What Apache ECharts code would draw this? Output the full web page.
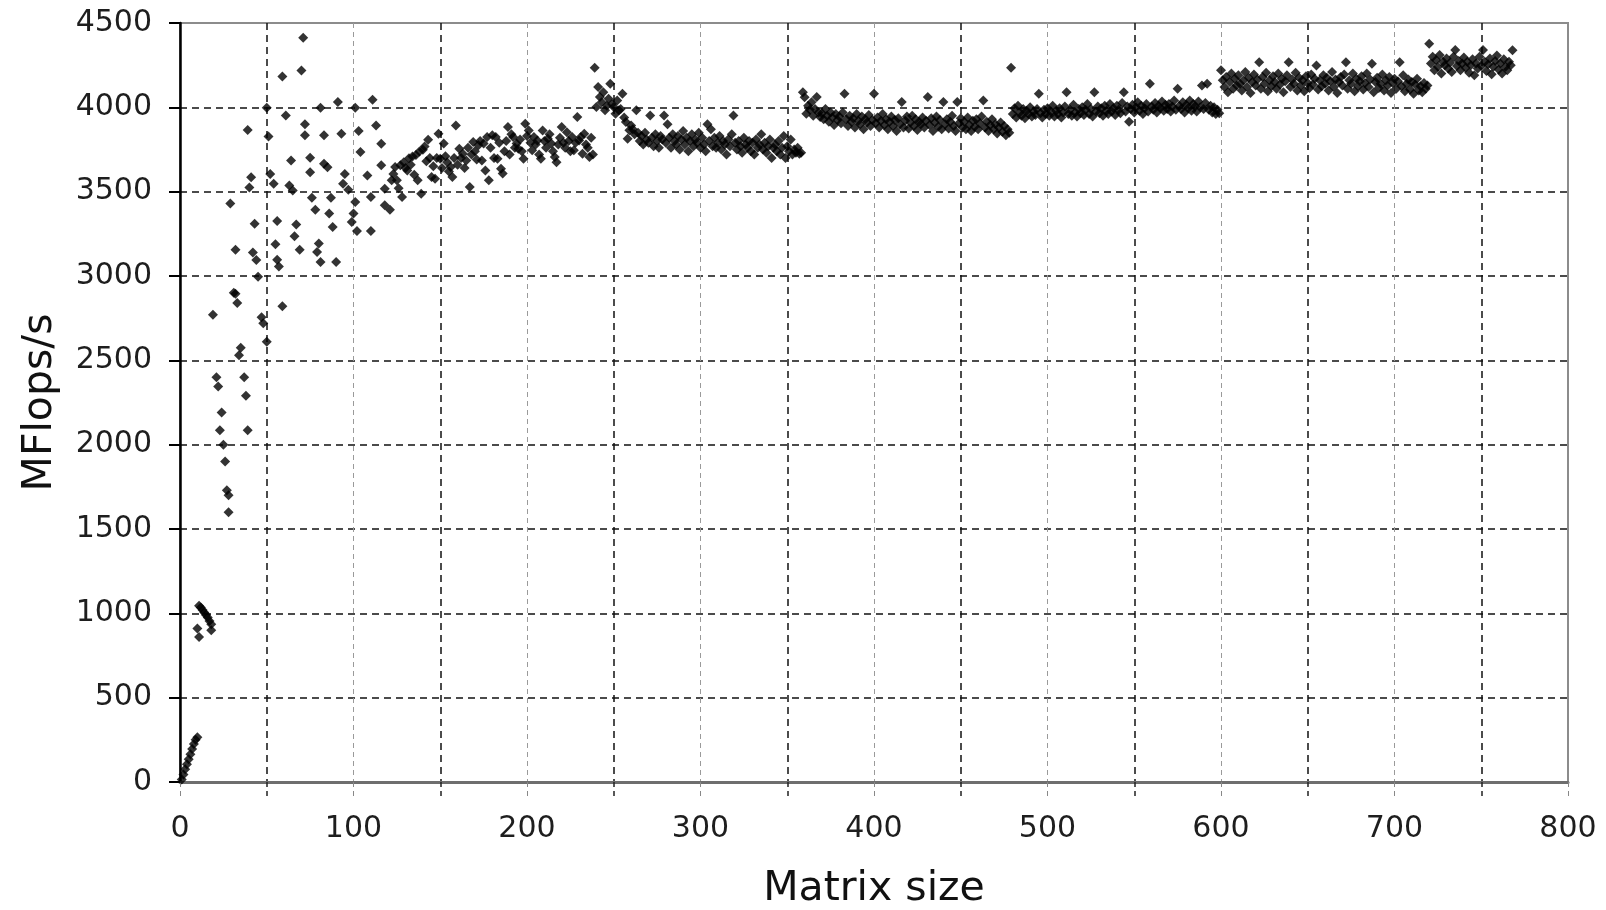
<!DOCTYPE html>
<html>
<head>
<meta charset="utf-8">
<script src="https://cdn.jsdelivr.net/npm/echarts@6/dist/echarts.min.js"></script>
<style>
html,body{margin:0;padding:0;background:#fff;}
#chart{width:1606px;height:910px;}
</style>
</head>
<body>
<div id="chart"></div>
<script>
// Axis ticks
const xTicks = [0, 100, 200, 300, 400, 500, 600, 700, 800];
const yTicks = [0, 500, 1000, 1500, 2000, 2500, 3000, 3500, 4000, 4500];

// Small matrix sizes (scattered region), explicit size / MFlops pairs
const sparseSizes = [1,2,3,4,5,6,7,8,9,10,
  11,12,13,14,15,16,17,10,11,18,18,
  19,21,22,24,23,25,26,27,28,28,29,31,32,32,33,34,35,37,38,39,39,41,40,
  42,43,44,45,47,48,50,50,51,52,54,55,56,57,56,59,59,61,63,64,65,66,67,69,70,71,
  72,72,75,75,76,78,79,80,81,81,83,83,85,86,87,88,90,91,93,94,95,97,99,100,
  101,101,102,103,104,108,110,110,111,113,116,116,118,118];
const sparseFlops = [15,45,75,105,135,165,195,225,250,265,
  1045,1035,1020,1005,990,975,955,910,860,935,900,
  2770,2400,2345,2190,2085,2000,1900,1730,1700,1600,3430,2900,3155,2895,2840,2530,2575,2400,2290,2085,3865,3585,3525,
  3140,3310,3095,2995,2755,2720,2610,3998,3827,3605,3547,3188,3097,3057,3326,2820,4183,3952,3537,3685,3507,3235,3306,3156,4219,4412,
  3834,3899,3701,3615,3464,3393,3142,3192,3083,3998,3665,3834,3645,3370,3464,3290,3083,4031,3843,3547,3605,3512,3320,3370,
  3438,3998,3267,3859,3735,3596,3468,3267,4045,3893,3784,3656,3518,3419];

// One point per matrix size from the given start size
const startB = 121;
const flopsB = [
  3393,3567,3605,3646,3567,3520,3656,3468,3675,3640,
  3626,3698,3660,3708,3600,3718,3567,3738,3488,3748,
  3768,3680,3808,3700,3587,3650,3577,3700,3844,3695,
  3640,3785,3710,3675,3620,3646,3587,3700,3893,3660,
  3755,3700,3725,3640,3685,3760,3527,3720,3794,3740,
  3690,3775,3800,3685,3785,3626,3824,3567,3760,3834,
  3700,3824,3695,3790,3636,3607,3740,3800,3883,3720,
  3840,3824,3760,3785,3755,3810,3740,3695,3903,3830,
  3863,3790,3745,3824,3780,3804,3720,3695,3863,3800,
  3760,3814,3840,3785,3740,3705,3675,3780,3820,3883,
  3790,3760,3853,3800,3740,3824,3745,3790,3942,3804,
  3824,3725,3844,3780,3760,3705,3820,3720,4235];

const startC = 240;
const flopsC = [
  4002,4120,4061,4030,4090,3982,4010,4051,4140,4020,
  4002,3962,4040,3982,3990,4081,3940,3913,3814,3864,
  3893,3870,3840,3982,3850,3800,3830,3780,3850,3810,
  3790,3952,3820,3770,3840,3800,3760,3830,3810,3952,
  3790,3900,3820,3760,3840,3800,3780,3830,3750,3810,
  3860,3780,3820,3740,3800,3840,3770,3810,3790,3850,
  3760,3820,3780,3740,3900,3800,3870,3770,3820,3760,
  3790,3830,3750,3800,3780,3720,3810,3770,3840,3952,
  3790,3750,3800,3770,3730,3820,3780,3760,3800,3740,
  3790,3720,3810,3760,3780,3840,3750,3790,3730,3770,
  3810,3700,3760,3780,3740,3800,3720,3760,3830,3700,
  3770,3740,3810,3720,3750,3730,3760,3725,3730,4090];

const startD = 360;
const flopsD = [
  4060,3962,4010,3985,4030,3950,3990,4061,3970,3942,
  3965,3930,3990,3950,3915,3970,3940,3895,3960,3925,
  3945,3905,3970,4080,3930,3890,3950,3915,3935,3880,
  3960,3920,3900,3945,3870,3930,3910,3955,3890,3925,
  4080,3905,3940,3880,3920,3960,3895,3930,3870,3915,
  3945,3890,3925,3860,3935,3900,4031,3880,3920,3945,
  3875,3910,3950,3890,3930,3865,3915,3900,3940,3880,
  3920,4061,3895,3935,3860,3910,3945,3885,3925,3870,
  4031,3900,3930,3875,3915,3950,3890,3860,4031,3905,
  3935,3880,3915,3870,3940,3895,3860,3920,3885,3930,
  3870,3905,3945,4041,3880,3915,3860,3895,3930,3870,
  3900,3845,3880,3910,3855,3890,3835,3870,3850,4235];

const startE = 480;
const flopsE = [
  3960,3995,3940,4010,3970,3950,3990,3935,3980,3960,
  4000,3945,3975,3955,3990,4080,3965,3940,3985,3960,
  3995,3950,3975,4010,3945,3980,3960,3995,3940,3970,
  4005,4090,3960,3985,3950,4015,3970,3945,3990,3965,
  4000,3955,3985,4020,3960,3990,3945,4090,3975,4005,
  3965,3995,3950,4010,3980,3960,4020,3975,3995,3955,
  4010,3985,3965,4025,4090,3975,4005,3915,3990,4015,
  3970,4000,4030,3980,4010,3960,3995,4020,3975,4140,
  4005,3985,4025,3970,4010,3995,4035,3980,4015,3990,
  4020,3975,4005,4040,3985,4110,4010,3990,4030,3970,
  4015,3995,4040,3980,4020,4005,3975,4035,4000,4130,
  3990,4025,4140,3985,4010,3970,4000,3960,3985,3965];

const startF = 600;
const flopsF = [
  4220,4160,4120,4180,4090,4150,4200,4110,4170,4130,
  4190,4140,4100,4160,4210,4120,4175,4085,4150,4195,
  4130,4165,4268,4110,4180,4140,4205,4095,4160,4125,
  4185,4150,4110,4200,4135,4170,4090,4155,4190,4268,
  4120,4165,4140,4205,4100,4175,4130,4160,4095,4185,
  4145,4115,4195,4135,4170,4248,4105,4160,4125,4190,
  4140,4175,4100,4155,4210,4120,4165,4085,4150,4180,
  4130,4195,4268,4110,4160,4140,4200,4095,4170,4125,
  4155,4185,4105,4145,4200,4120,4165,4258,4090,4150,
  4175,4115,4140,4195,4100,4160,4130,4180,4085,4145,
  4170,4110,4155,4268,4125,4190,4095,4140,4165,4105,
  4150,4080,4135,4170,4100,4125,4090,4145,4110,4130];

const startG = 720;
const flopsG = [
  4377,4260,4300,4220,4280,4240,4310,4200,4270,4250,
  4290,4230,4265,4210,4300,4340,4245,4275,4220,4260,
  4295,4235,4270,4205,4250,4285,4190,4260,4230,4300,
  4245,4340,4270,4215,4255,4290,4196,4240,4275,4308,
  4225,4260,4200,4285,4240,4220,4270,4250,4338];

const points = [];
sparseSizes.forEach((s, i) => points.push([s, sparseFlops[i]]));
[[startB, flopsB], [startC, flopsC], [startD, flopsD], [startE, flopsE], [startF, flopsF], [startG, flopsG]]
  .forEach(([start, arr]) => arr.forEach((v, i) => points.push([start + i, v])));

const chart = echarts.init(document.getElementById('chart'), null, {renderer: 'canvas'});
const labelFont = {fontFamily: 'DejaVu Sans', fontSize: 30, color: '#1e1e1e'};
chart.setOption({
  animation: false,
  backgroundColor: '#fff',
  grid: {left: 180, right: 38, top: 23, bottom: 128, show: true, borderColor: '#8c8c8c', borderWidth: 2,
         backgroundColor: 'transparent', containLabel: false, outerBoundsMode: 'none'},
  xAxis: {
    type: 'value', min: xTicks[0], max: xTicks[xTicks.length - 1], interval: 100,
    name: 'Matrix size', nameLocation: 'middle', nameGap: 87,
    nameTextStyle: {fontFamily: 'DejaVu Sans', fontSize: 41, color: '#111'},
    axisLine: {show: true, onZero: false, lineStyle: {color: '#6e6e6e', width: 3}},
    axisTick: {show: true, length: 15, lineStyle: {color: '#888', width: 1, type: [5, 4]}},
    minorTick: {show: true, splitNumber: 2, length: 15, lineStyle: {color: '#222', width: 1.5, type: [5, 4]}},
    axisLabel: Object.assign({margin: 32, formatter: v => String(v)}, labelFont),
    splitLine: {show: true, showMinLine: false, showMaxLine: false, lineStyle: {color: '#9a9a9a', width: 1, type: [5, 4]}},
    minorSplitLine: {show: true, lineStyle: {color: '#111', width: 1.5, type: [7, 5]}}
  },
  yAxis: {
    type: 'value', min: yTicks[0], max: yTicks[yTicks.length - 1], interval: 500,
    name: 'MFlops/s', nameLocation: 'middle', nameGap: 119, nameRotate: 90,
    nameTextStyle: {fontFamily: 'DejaVu Sans', fontSize: 41, color: '#111'},
    axisLine: {show: true, lineStyle: {color: '#000', width: 2.5}},
    axisTick: {show: true, length: 11, lineStyle: {color: '#000', width: 2}},
    axisLabel: Object.assign({margin: 28, formatter: v => String(v)}, labelFont),
    splitLine: {show: true, showMinLine: false, showMaxLine: false, lineStyle: {color: '#111', width: 1.5, type: [7, 5]}}
  },
  series: [{
    type: 'scatter',
    data: points,
    symbol: 'diamond',
    symbolSize: 10,
    itemStyle: {color: '#000'},
    z: 5
  }]
});
</script>
</body>
</html>
